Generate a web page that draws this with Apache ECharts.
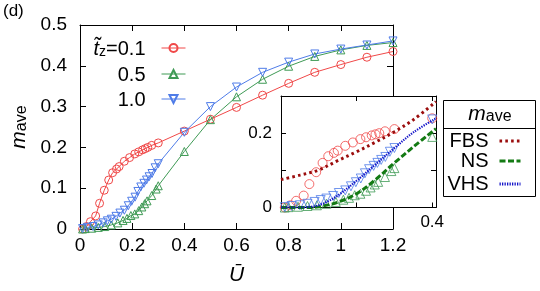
<!DOCTYPE html>
<html><head><meta charset="utf-8">
<script src="https://cdn.jsdelivr.net/npm/echarts@6/dist/echarts.min.js"></script>
<style>html,body{margin:0;padding:0;background:#fff}#c{width:540px;height:291px}</style>
</head><body><div id="c"></div>
<script>
// ---- data ----
const redU   = [0.01,0.025,0.04,0.06,0.075,0.093,0.11,0.125,0.14,0.15,0.17,0.19,0.21,0.225,0.24,0.25,0.26,0.275,0.3,0.4,0.5,0.6,0.7,0.8,0.9,1.0,1.1,1.2];
const redM   = [0.0,0.006,0.018,0.032,0.063,0.095,0.12,0.138,0.147,0.153,0.166,0.175,0.184,0.189,0.194,0.197,0.2,0.205,0.211,0.24,0.269,0.298,0.328,0.357,0.384,0.403,0.421,0.435];
const greenU = [0.01,0.02,0.045,0.07,0.095,0.12,0.145,0.165,0.18,0.195,0.21,0.225,0.237,0.248,0.257,0.275,0.292,0.3,0.4,0.5,0.6,0.7,0.8,0.9,1.0,1.1,1.2];
const greenM = [0,0.001,0.002,0.004,0.006,0.010,0.015,0.021,0.026,0.033,0.037,0.045,0.054,0.062,0.069,0.082,0.098,0.106,0.19,0.268,0.324,0.367,0.399,0.423,0.439,0.450,0.457];
const blueU  = [0.01,0.028,0.05,0.07,0.089,0.105,0.12,0.138,0.153,0.17,0.185,0.198,0.211,0.222,0.233,0.245,0.255,0.265,0.276,0.288,0.3,0.4,0.5,0.6,0.7,0.8,0.9,1.0,1.1,1.2];
const blueM  = [0.001,0.004,0.006,0.010,0.015,0.020,0.024,0.031,0.039,0.046,0.057,0.068,0.078,0.092,0.103,0.112,0.12,0.128,0.136,0.150,0.160,0.237,0.300,0.348,0.384,0.409,0.429,0.441,0.451,0.461];

const fbsU = [0,0.05,0.1,0.15,0.2,0.25,0.3,0.35,0.41];
const fbsM = [0.075,0.087,0.101,0.126,0.15,0.176,0.204,0.236,0.285];
const nsU  = [0,0.08,0.1,0.125,0.15,0.2,0.25,0.3,0.35,0.41];
const nsM  = [0,0,0.002,0.007,0.014,0.037,0.075,0.12,0.163,0.212];
const vhsU = [0,0.05,0.08,0.1,0.125,0.15,0.2,0.25,0.3,0.35,0.41];
const vhsM = [0,0,0.002,0.006,0.017,0.032,0.072,0.116,0.16,0.202,0.24];

const seriesNames = ['0.1','0.5','1.0'];
const xTickLabels = ['0','0.2','0.4','0.6','0.8','1','1.2'];
const yTickLabels = ['0','0.1','0.2','0.3','0.4','0.5'];
const insetXTickLabels = ['','','0.4'];
const insetYTickLabels = ['0','','0.2',''];

// ---- chart ----
const F = 'Liberation Sans, Arial, sans-serif';
const RED = '#f04848', GREEN = '#3f9a55', BLUE = '#4f7ce8';
const zip = (u, m) => u.map((x, i) => [x, m[i]]);
const inset = (u, m) => zip(u, m).filter(p => p[0] <= 0.41);

const chart = echarts.init(document.getElementById('c'), null, {renderer: 'canvas'});

function mainAxis(extra) {
  return Object.assign({
    type: 'value', gridIndex: 0,
    axisLine: {show: true, onZero: false, lineStyle: {color: '#000', width: 1}},
    axisTick: {show: true, inside: true, length: 6, lineStyle: {color: '#000'}},
    splitLine: {show: false},
    axisLabel: {show: false}
  }, extra);
}
function insetAxis(extra) {
  return Object.assign({
    type: 'value', gridIndex: 1, z: 4,
    axisLine: {show: true, onZero: false, lineStyle: {color: '#000', width: 1}},
    axisTick: {show: true, inside: true, length: 5, lineStyle: {color: '#000'}},
    splitLine: {show: false},
    axisLabel: {show: false}
  }, extra);
}

const mkMain = (name, u, m, color, sym, rot) => ({
  name, type: 'line', xAxisIndex: 0, yAxisIndex: 0, data: zip(u, m),
  symbol: sym, symbolRotate: rot, symbolSize: 8, showSymbol: true,
  itemStyle: {color: 'rgba(255,255,255,0)', borderColor: color, borderWidth: 1},
  lineStyle: {color, width: 1}, z: 2, animation: false
});
const mkInsetPts = (name, u, m, color, sym, rot) => ({
  name, type: 'scatter', xAxisIndex: 2, yAxisIndex: 2, data: inset(u, m),
  symbol: sym, symbolRotate: rot, symbolSize: 9,
  itemStyle: {color: 'rgba(255,255,255,0)', borderColor: color, borderWidth: 1},
  z: 6, animation: false
});
const mkTheory = (name, u, m, color, width, dash) => ({
  name, type: 'line', xAxisIndex: 2, yAxisIndex: 2, data: zip(u, m),
  symbol: 'none', smooth: 0.35,
  itemStyle: {color},
  lineStyle: {color, width, type: dash, cap: 'butt'}, z: 7, animation: false
});

const mainLegendText = {
  fontFamily: F, fontSize: 20, color: '#000', lineHeight: 22,
  rich: {
    t: {fontFamily: F, fontSize: 20, fontStyle: 'italic', lineHeight: 22, verticalAlign: 'bottom'},
    z: {fontFamily: F, fontSize: 14, lineHeight: 8, verticalAlign: 'bottom'},
    n: {fontFamily: F, fontSize: 20, lineHeight: 22, verticalAlign: 'bottom', padding: [0, 11, 0, 0]}
  }
};
const mainLegend = (name, top) => ({
  data: [name], orient: 'vertical', align: 'right', right: 354, top, padding: 0,
  itemWidth: 24, itemHeight: 10, selectedMode: false,
  lineStyle: {width: 1},
  formatter: n => n === '0.1' ? '{t|t\u0303}{z|z}{n|=0.1}' : '{n|' + n + '}',
  textStyle: mainLegendText
});
const sideLegend = (name, top) => ({
  data: [name], orient: 'vertical', align: 'right', right: 18, top, padding: 0,
  itemWidth: 21, itemHeight: 10, selectedMode: false,
  itemStyle: {opacity: 0},
  lineStyle: {width: 3},
  formatter: n => '{n|' + n + '}',
  textStyle: {fontFamily: F, fontSize: 20, color: '#000', lineHeight: 22,
    rich: {n: {fontFamily: F, fontSize: 20, lineHeight: 22, padding: [0, 6, 0, 0]}}}
});

const option = {
  backgroundColor: '#fff',
  animation: false,
  title: {text: '(d)', left: 3, top: 3, padding: 0,
    textStyle: {fontFamily: F, fontSize: 17, fontWeight: 'normal', color: '#000'}},
  grid: [
    {left: 80, top: 25, width: 313, height: 206, show: false},
    {left: 281, top: 96, width: 155, height: 111.5, show: true, backgroundColor: '#fff', borderWidth: 0, z: 3}
  ],
  xAxis: [
    mainAxis({position: 'bottom', min: 0, max: 1.2, interval: 0.2,
      axisLabel: {show: true, fontFamily: F, fontSize: 19, color: '#000', margin: 7,
        formatter: v => xTickLabels[Math.round(v / 0.2)] ?? ''},
      name: '{u|U\u0304}', nameLocation: 'middle', nameGap: 36,
      nameTextStyle: {rich: {u: {fontFamily: F, fontSize: 21, fontStyle: 'italic', color: '#000'}}}}),
    mainAxis({position: 'top', min: 0, max: 1.2, interval: 0.2}),
    insetAxis({position: 'bottom', gridIndex: 1, min: 0, max: 0.41, interval: 0.2,
      axisLabel: {show: true, fontFamily: F, fontSize: 17, color: '#000', margin: 6,
        formatter: v => insetXTickLabels[Math.round(v / 0.2)] ?? ''}}),
    insetAxis({position: 'top', gridIndex: 1, min: 0, max: 0.41, interval: 0.2})
  ],
  yAxis: [
    mainAxis({position: 'left', min: 0, max: 0.5, interval: 0.1,
      axisLabel: {show: true, fontFamily: F, fontSize: 19, color: '#000', margin: 13,
        formatter: v => yTickLabels[Math.round(v / 0.1)] ?? ''},
      name: '{m|m}{s|ave}', nameLocation: 'middle', nameGap: 35, nameRotate: 90,
      nameTextStyle: {rich: {
        m: {fontFamily: F, fontSize: 21, fontStyle: 'italic', color: '#000', lineHeight: 22, verticalAlign: 'bottom'},
        s: {fontFamily: F, fontSize: 16, color: '#000', lineHeight: 10, verticalAlign: 'bottom'}}}}),
    mainAxis({position: 'right', min: 0, max: 0.5, interval: 0.1}),
    insetAxis({position: 'left', gridIndex: 1, min: 0, max: 0.3, interval: 0.1,
      axisLabel: {show: true, fontFamily: F, fontSize: 17, color: '#000', margin: 9,
        formatter: v => insetYTickLabels[Math.round(v / 0.1)] ?? ''}}),
    insetAxis({position: 'right', gridIndex: 1, min: 0, max: 0.3, interval: 0.1})
  ],
  legend: [
    mainLegend('0.1', 37),
    mainLegend('0.5', 63),
    mainLegend('1.0', 88),
    sideLegend('FBS', 130),
    sideLegend('NS', 150),
    sideLegend('VHS', 173)
  ],
  graphic: [
    {type: 'rect', z: 1, shape: {x: 443.5, y: 100.5, width: 92, height: 96},
      style: {fill: '#fff', stroke: '#000', lineWidth: 1}},
    {type: 'line', z: 1, shape: {x1: 443.5, y1: 128.5, x2: 535.5, y2: 128.5},
      style: {stroke: '#000', lineWidth: 1}},
    {type: 'text', z: 2, x: 490, y: 114,
      style: {text: '{m|m}{s|ave}', align: 'center', verticalAlign: 'middle',
        rich: {
          m: {fontFamily: F, fontSize: 21, fontStyle: 'italic', fill: '#000', lineHeight: 22, verticalAlign: 'bottom'},
          s: {fontFamily: F, fontSize: 16, fill: '#000', lineHeight: 10, verticalAlign: 'bottom'}}}}
  ],
  series: [
    mkMain('0.1', redU, redM, RED, 'circle', 0),
    mkMain('0.5', greenU, greenM, GREEN, 'triangle', 0),
    mkMain('1.0', blueU, blueM, BLUE, 'triangle', 180),
    mkInsetPts('i0.1', redU, redM, RED, 'circle', 0),
    mkInsetPts('i0.5', greenU, greenM, GREEN, 'triangle', 0),
    mkInsetPts('i1.0', blueU, blueM, BLUE, 'triangle', 180),
    mkTheory('FBS', fbsU, fbsM, '#9b0d0d', 3, [2.6, 3.2]),
    mkTheory('NS', nsU, nsM, '#137a13', 3, [6, 2.5]),
    mkTheory('VHS', vhsU, vhsM, '#1414c8', 2.2, [1.3, 1.2])
  ]
};
chart.setOption(option);
</script>
</body></html>
